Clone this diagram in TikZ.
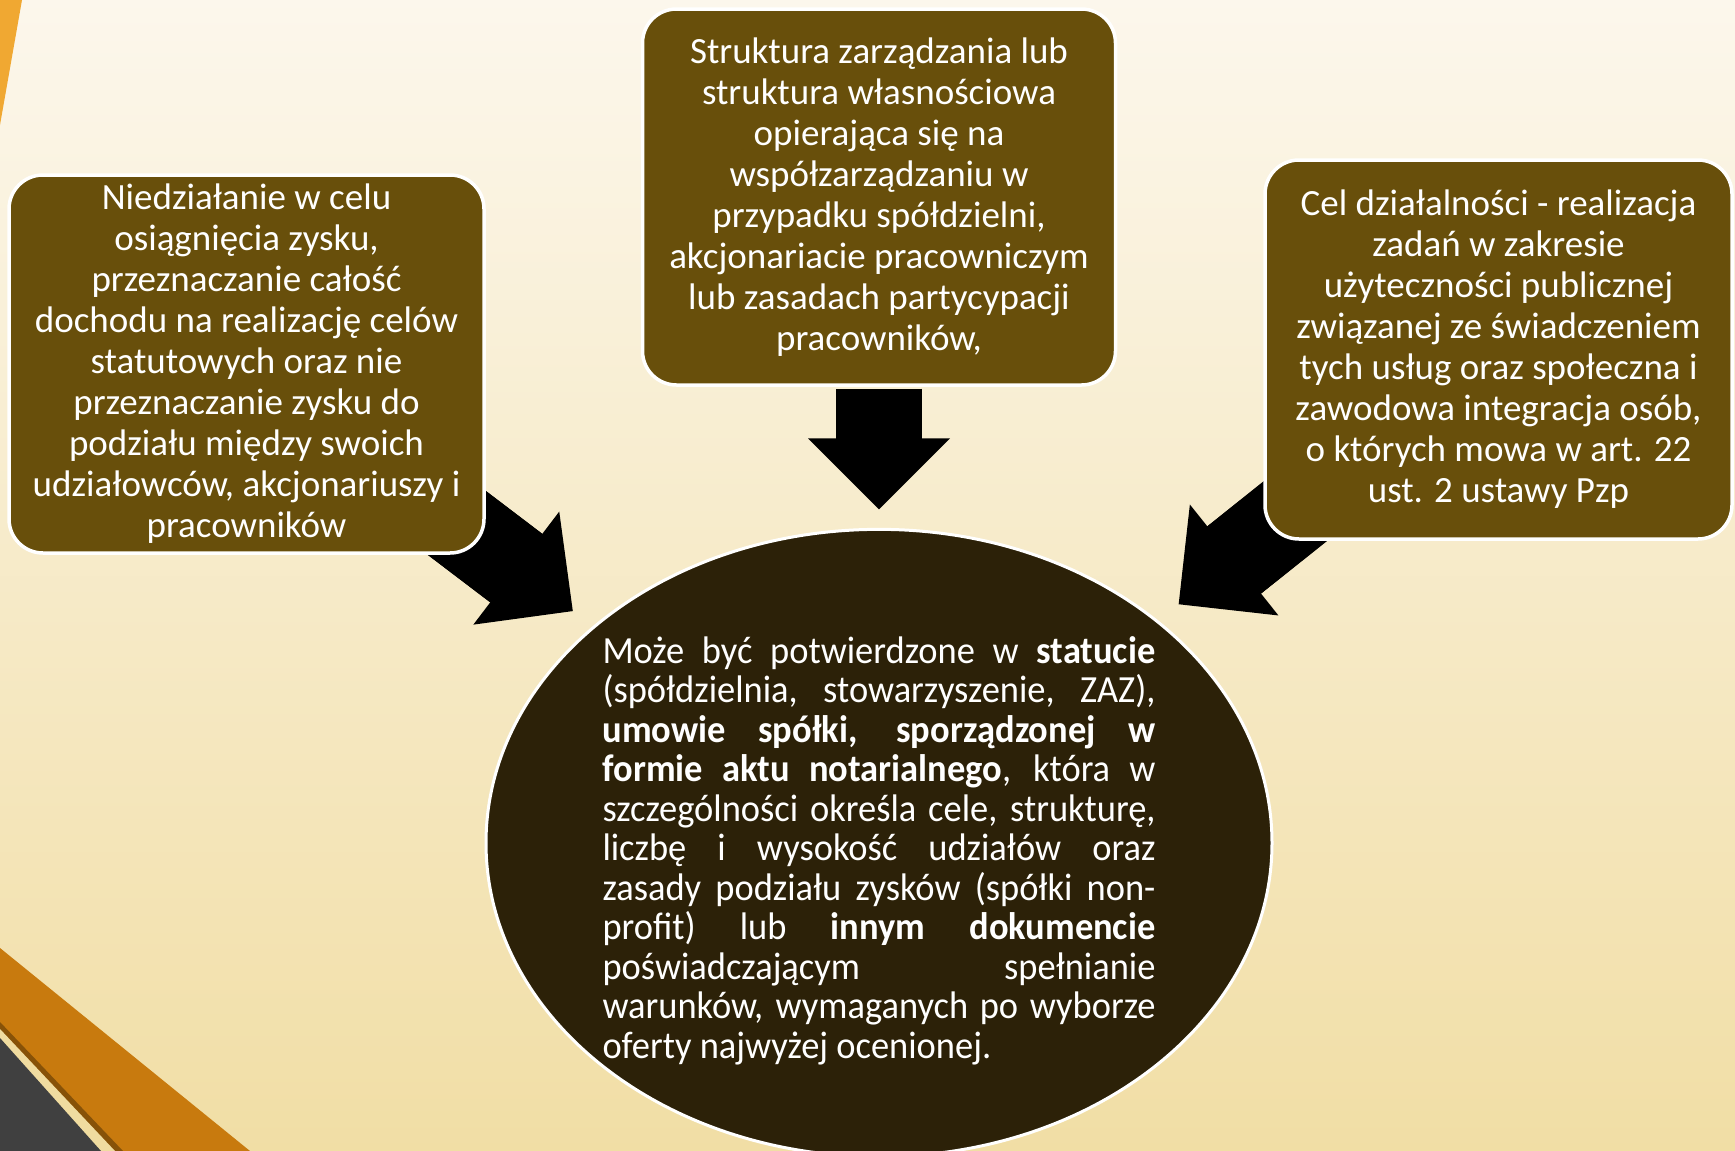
\documentclass[tikz,border=0pt]{standalone}
\usepackage{fontspec}
\setmainfont{Carlito}
\newfontfamily\ellfont{Carlito}[FakeStretch=0.95]
\usetikzlibrary{shapes.geometric,arrows.meta}

\tolerance=10000
\hyphenpenalty=10000

\definecolor{boxbrown}{RGB}{104,79,11}
\definecolor{ellbrown}{RGB}{44,33,8}
\definecolor{bgtop}{RGB}{252,247,236}
\definecolor{bgmid}{RGB}{248,238,212}
\definecolor{bgbot}{RGB}{241,222,165}
\definecolor{wedgeorange}{RGB}{240,168,50}
\definecolor{stripeorange}{RGB}{200,122,14}
\definecolor{stripebrown}{RGB}{135,82,8}
\definecolor{stripecream}{RGB}{240,220,160}
\definecolor{stripegray}{RGB}{64,64,64}

\pgfdeclarelayer{background}
\pgfdeclarelayer{arrows}
\pgfsetlayers{background,arrows,main}

\begin{document}
\begin{tikzpicture}[x=0.5pt, y=-0.5pt,
    infobox/.style={draw=white, line width=1.75pt, fill=boxbrown, rounded corners=17pt,
      text=white, align=center, inner sep=0pt, font=\fontsize{18.5}{20.5}\selectfont},
    bigarrow/.style={black, line width=43pt,
      -{Triangle[length=35.5pt, width=71pt, line width=0pt]}},
    bigshaft/.style={black, line width=43pt}]

  \useasboundingbox (0,0) rectangle (1735,1151);

  \begin{pgfonlayer}{background}
    % Draw the slide background
    \shade[top color=bgtop, middle color=bgmid, bottom color=bgbot] (0,0) rectangle (1735,1151);

    % Draw the stripes in the corners
    \fill[wedgeorange] (0,0) -- (22,0) -- (0,125) -- cycle;
    \fill[stripeorange] (0,948) -- (250,1151) -- (0,1151) -- cycle;
    \fill[stripebrown] (0,1022) -- (123,1151) -- (0,1151) -- cycle;
    \fill[stripecream] (0,1029) -- (115,1151) -- (0,1151) -- cycle;
    \fill[stripegray] (0,1038) -- (101,1151) -- (0,1151) -- cycle;
  \end{pgfonlayer}

  % Draw the three boxes
  \node[infobox, minimum width=237.5pt, minimum height=189pt] (lbox) at (246.5,364)
    {Niedziałanie w celu\\ osiągnięcia zysku,\\ przeznaczanie całość\\ dochodu na realizację celów\\
     statutowych oraz nie\\ przeznaczanie zysku do\\ podziału między swoich\\
     udziałowców, akcjonariuszy i\\ pracowników};
  \node[infobox, minimum width=236.5pt, minimum height=188pt] (tbox) at (879,197)
    {Struktura zarządzania lub\\ struktura własnościowa\\ opierająca się na\\ współzarządzaniu w\\
     przypadku spółdzielni,\\ akcjonariacie pracowniczym\\ lub zasadach partycypacji\\ pracowników,};
  \node[infobox, minimum width=233.5pt, minimum height=189.5pt] (rbox) at (1498.5,349.5)
    {Cel działalności - realizacja\\ zadań w zakresie\\ użyteczności publicznej\\
     związanej ze świadczeniem\\ tych usług oraz społeczna i\\ zawodowa integracja osób,\\
     o których mowa w art. 22\\ ust. 2 ustawy Pzp};

  % Draw the ellipse in the middle
  \node[ellipse, draw=white, line width=1.5pt, fill=ellbrown, text=white, inner sep=0pt,
    minimum width=393pt, minimum height=312pt, text width=276.5pt, align=justify,
    font=\ellfont\fontsize{19.2}{19.75}\selectfont] (ell) at (879,843)
    {\rule{0pt}{21pt}Może być potwierdzone w \textbf{statucie}\linebreak
     (spółdzielnia, stowarzyszenie, ZAZ),\linebreak
     \textbf{umowie spółki, sporządzonej w}\linebreak
     \textbf{formie aktu notarialnego}, która w\linebreak
     szczególności określa cele, strukturę,\linebreak
     liczbę i wysokość udziałów oraz\linebreak
     zasady podziału zysków (spółki non-\linebreak
     profit) lub \textbf{innym dokumencie}\linebreak
     poświadczającym spełnianie\linebreak
     warunków, wymaganych po wyborze\linebreak
     oferty najwyżej ocenionej.};

  % Draw the arrows into the ellipse
  \begin{pgfonlayer}{arrows}
    \foreach \from/\back/\front in {lbox/-25pt/12.5pt, tbox/1pt/9.25pt, rbox/-27.5pt/13pt} {
      \draw[bigshaft, shorten <=\back, shorten >=\front+25pt] (\from) -- (ell);
      \draw[bigarrow, shorten <=\back, shorten >=\front] (\from) -- (ell);
    }
  \end{pgfonlayer}
\end{tikzpicture}
\end{document}
